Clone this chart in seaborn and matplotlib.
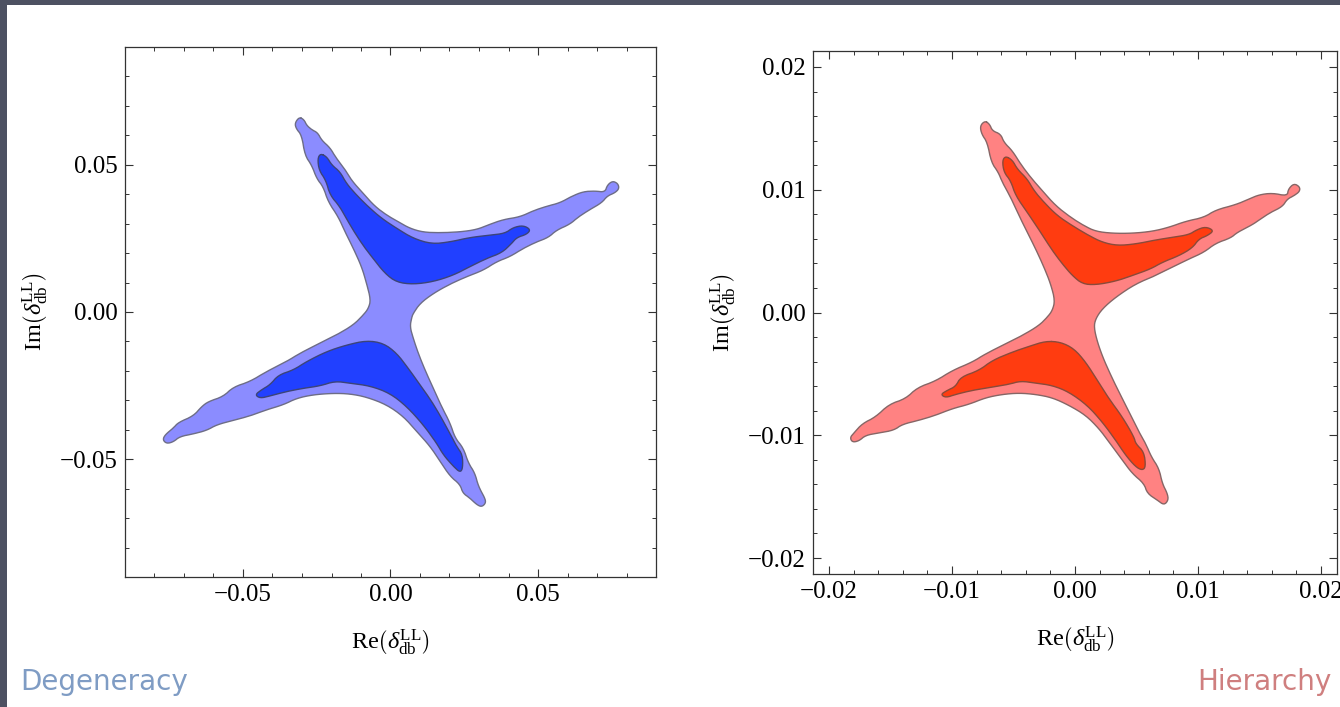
import numpy as np
import pandas as pd
import matplotlib.pyplot as plt
import seaborn as sns
from matplotlib.patches import Rectangle
from matplotlib.ticker import MultipleLocator

deg_outer_re = [-30.9, -29.3, -28.4, -26.7, -24.7, -23.3, -20.5, -18.5, -15.6, -13.2, -9.2, -5.3, -1.3, 2.7, 6.6, 11.1, 16.8, 23.6, 29.2, 33.2, 38.2, 43.9, 48.4, 52.9, 57.5, 61.4, 65.4, 69.3, 72.7, 73.5, 75.3, 77.1, 77.5, 76.1, 73.5, 71.6, 67.6, 63.7, 60.8, 56.3, 53.5, 49.5, 45.0, 40.5, 36.0, 31.5, 25.8, 20.2, 14.5, 10.0, 7.7,
                7.2, 6.6, 7.7, 9.4, 11.7, 14.5, 17.3, 20.2, 21.9, 24.7, 26.4, 28.6, 29.8, 32.0, 32.3, 30.9, 29.2, 26.9, 24.5, 23.6, 20.2, 16.8, 13.4, 8.9, 4.4, -1.3, -8.1, -13.7, -19.4, -26.2, -31.8, -36.3, -42.0, -47.6, -53.3, -58.9, -62.3, -66.8, -71.4, -73.6, -75.9, -77.2, -76.4, -73.6, -71.9, -66.8, -64.0, -61.7, -56.7, -53.3, -47.6, -42.0, -35.2, -30.7, -24.0, -18.3, -12.6, -9.2,
                -7.5, -6.7, -8.1, -9.8, -12.6, -15.4, -17.7, -21.1, -22.8, -25.0, -26.7, -29.0, -30.1, -32.0, -32.4]
deg_outer_im = [66.2, 65.3, 63.4, 61.9, 60.9, 58.3, 55.8, 52.4, 48.7, 44.7, 40.2, 35.9, 32.9, 30.6, 28.4, 27.1, 26.9, 27.2, 28.0, 29.6, 31.4, 32.3, 34.4, 35.9, 37.1, 39.3, 40.9, 41.1, 40.7, 43.1, 44.5, 43.6, 41.9, 40.5, 39.4, 37.1, 34.8, 32.3, 29.8, 27.8, 25.3, 23.8, 21.6, 18.8, 17.1, 14.2, 12.0, 9.5, 6.3, 2.9, -0.5,
                -1.8, -5.0, -8.9, -14.0, -19.7, -25.9, -32.1, -37.7, -42.8, -46.2, -51.3, -54.7, -59.2, -63.2, -64.9, -66.2, -65.4, -63.2, -61.5, -58.6, -55.8, -50.7, -45.6, -40.6, -35.5, -31.5, -28.9, -27.8, -27.6, -28.1, -29.3, -31.5, -33.2, -35.3, -36.8, -38.3, -40.2, -41.4, -42.3, -44.1, -44.7, -43.4, -41.7, -39.4, -37.5, -35.3, -32.1, -30.4, -28.7, -25.5, -23.6, -20.2, -16.8, -14.0, -10.6, -7.8, -4.4, -1.0,
                1.2, 4.1, 9.7, 15.4, 21.6, 27.2, 32.3, 37.4, 42.5, 45.3, 49.8, 53.2, 60.0, 62.3, 64.2]
deg_upper_re = [-23.7, -21.6, -19.9, -17.1, -14.9, -11.5, -7.5, -3.0, 2.1, 7.7, 14.0, 20.2, 26.9, 33.7, 38.8, 41.6, 45.0, 47.5, 46.2, 42.8, 41.1, 37.7, 32.6, 26.9, 21.3, 14.5, 7.7, 2.1, -1.9, -6.4, -9.8, -13.7, -17.1, -20.5, -21.9, -24.2, -24.7]
deg_upper_im = [53.8, 52.7, 49.9, 47.6, 43.6, 39.7, 35.7, 31.8, 28.4, 25.0, 23.1, 23.8, 25.3, 26.1, 26.7, 28.7, 29.4, 28.0, 26.4, 25.3, 23.3, 20.1, 18.2, 15.4, 12.5, 10.3, 9.4, 10.1, 13.1, 18.8, 23.3, 29.5, 35.7, 39.7, 44.7, 48.1, 52.1]
deg_lower_re = [-8.1, -2.4, 2.1, 6.0, 10.0, 14.0, 17.3, 20.7, 22.4, 24.4, 24.5, 23.6, 21.3, 17.9, 15.6, 11.1, 5.5, -0.2, -6.9, -13.7, -18.8, -23.9, -29.5, -35.2, -40.8, -44.2, -45.9, -43.7, -40.8, -38.0, -32.9, -28.4, -21.6, -14.9]
deg_lower_im = [-9.7, -10.6, -14.0, -19.1, -24.7, -30.4, -36.0, -42.3, -45.6, -48.5, -53.0, -54.5, -52.4, -48.5, -44.5, -38.3, -32.1, -27.6, -25.1, -24.2, -23.5, -25.1, -25.9, -27.0, -28.5, -29.3, -28.1, -26.4, -24.7, -21.4, -19.7, -16.8, -13.4, -11.2]

hie_outer_re = [-7.32, -6.94, -6.72, -6.04, -5.77, -5.09, -4.42, -3.60, -2.66, -1.57, -0.35, 0.73, 1.68, 3.04, 4.66, 6.29, 7.64, 9.00, 10.49, 11.44, 13.06, 14.15, 14.96, 16.04, 17.26, 17.34, 17.80, 18.27, 18.27, 17.80, 17.26, 16.86, 15.91, 15.09, 14.42, 13.20, 12.66, 11.44, 10.49, 9.27, 7.91, 6.56, 4.93, 3.31, 2.22,
                1.68, 1.54, 1.82, 2.36, 3.17, 3.85, 4.53, 5.20, 5.75, 6.21, 6.83, 7.10, 7.51, 7.59, 7.24, 6.69, 5.88, 5.61, 4.66, 3.85, 2.76, 1.95, 0.87, -0.49, -1.84, -3.20, -4.55, -5.91, -7.26, -8.62, -9.97, -11.33, -12.68, -14.04, -14.72, -15.93, -17.02, -17.56, -18.10, -18.29, -17.97, -17.29, -16.21, -15.12, -13.77, -12.82, -11.33, -9.97, -8.35, -7.26, -5.64, -4.28, -2.93, -2.25,
                -1.84, -1.63, -1.98, -2.52, -3.20, -3.88, -4.55, -5.23, -5.91, -6.23, -6.80, -7.13, -7.59, -7.72]
hie_outer_im = [15.61, 15.34, 14.80, 14.53, 13.85, 13.17, 12.09, 11.00, 9.92, 8.70, 7.75, 7.07, 6.61, 6.45, 6.45, 6.61, 6.94, 7.43, 7.75, 8.35, 8.78, 9.24, 9.59, 9.73, 9.49, 10.05, 10.51, 10.24, 9.86, 9.51, 9.24, 8.62, 8.16, 7.62, 7.15, 6.53, 6.07, 5.64, 4.91, 4.36, 3.69, 3.01, 2.33, 1.25, 0.30,
                -0.51, -1.19, -2.41, -3.90, -5.66, -7.02, -8.37, -9.73, -10.68, -11.76, -12.71, -13.93, -14.74, -15.28, -15.69, -15.28, -14.74, -13.93, -13.12, -12.03, -10.54, -9.46, -8.37, -7.56, -6.94, -6.67, -6.56, -6.67, -6.94, -7.48, -7.83, -8.37, -8.78, -9.11, -9.59, -9.81, -10.0, -10.46, -10.57, -10.19, -9.81, -9.05, -8.51, -7.48, -7.02, -6.12, -5.58, -4.72, -4.04, -3.36, -2.55, -1.87, -1.06, -0.38,
                0.16, 0.98, 2.33, 3.69, 5.18, 6.53, 7.89, 9.38, 10.60, 11.41, 12.22, 13.85, 14.53, 15.20]
hie_upper_re = [-5.64, -5.09, -4.69, -3.88, -3.33, -2.52, -1.44, -0.22, 1.14, 2.22, 3.44, 4.93, 6.56, 7.91, 9.27, 9.86, 10.62, 11.30, 10.76, 10.08, 9.54, 8.46, 7.10, 6.15, 4.66, 3.31, 1.68, 0.60, -0.22, -1.03, -1.84, -2.79, -3.88, -4.82, -5.23, -5.77, -5.91]
hie_upper_im = [12.74, 12.41, 11.68, 10.87, 9.92, 8.97, 7.89, 7.07, 6.26, 5.72, 5.45, 5.58, 5.91, 6.12, 6.34, 6.72, 6.99, 6.67, 6.26, 5.99, 5.26, 4.63, 4.09, 3.55, 3.01, 2.55, 2.25, 2.33, 3.01, 3.96, 5.04, 6.53, 8.16, 9.51, 10.73, 11.41, 12.36]
hie_lower_re = [-2.38, -1.17, -0.08, 0.87, 1.82, 2.76, 3.85, 4.80, 4.93, 5.61, 5.75, 5.47, 4.93, 4.12, 3.31, 2.22, 1.00, -0.49, -1.84, -3.20, -4.42, -5.37, -6.72, -8.35, -9.70, -10.51, -10.92, -10.38, -9.70, -9.30, -7.80, -6.72, -5.09, -3.74]
hie_lower_im = [-2.33, -2.41, -2.95, -4.04, -5.53, -7.02, -8.51, -10.14, -10.68, -11.36, -12.57, -12.85, -12.57, -11.63, -10.41, -8.92, -7.56, -6.48, -5.94, -5.75, -5.58, -5.85, -6.07, -6.34, -6.67, -6.94, -6.67, -6.34, -6.02, -5.26, -4.72, -3.90, -3.22, -2.76]

deg_ticks = [-0.05, 0.0, 0.05]
deg_labels = ['\u22120.05', '0.00', '0.05']
hie_ticks = [-0.02, -0.01, 0.0, 0.01, 0.02]
hie_labels = ['\u22120.02', '\u22120.01', '0.00', '0.01', '0.02']

sns.set_style('ticks')
plt.rcParams['font.family'] = ['Liberation Serif', 'DejaVu Serif']
plt.rcParams['mathtext.fontset'] = 'custom'
plt.rcParams['mathtext.rm'] = 'Liberation Serif'
plt.rcParams['mathtext.it'] = 'Liberation Serif:italic'
plt.rcParams['mathtext.bf'] = 'Liberation Serif:bold'

W, H = 1340, 707
LABEL = r'$\mathrm{%s}\left(\delta_{\mathrm{db}}^{\mathrm{LL}}\right)$'


def round_corners(v):
    # corner cutting so the outline is drawn round instead of with sharp kinks
    for _ in range(2):
        nxt = np.roll(v, -1)
        v = np.column_stack([0.75 * v + 0.25 * nxt, 0.25 * v + 0.75 * nxt]).ravel()
    return np.r_[v, v[0]]


def contour(ax, re, im, fill, edge):
    df = pd.DataFrame({'re': round_corners(np.array(re)) / 1000,
                       'im': round_corners(np.array(im)) / 1000})
    ax.fill(df['re'], df['im'], color=fill, lw=0)
    sns.lineplot(data=df, x='re', y='im', sort=False, estimator=None, ax=ax,
                 color=edge, lw=1.0, solid_joinstyle='round')
    ax.set_xlabel('')
    ax.set_ylabel('')


def panel(box, lim, ticks, labels, minor):
    left, top, right, bottom = box
    ax = fig.add_axes([left / W, 1 - bottom / H, (right - left) / W, (bottom - top) / H])
    ax.set_facecolor('white')
    ax.set_xlim(-lim, lim)
    ax.set_ylim(-lim, lim)
    ax.set_xticks(ticks)
    ax.set_yticks(ticks)
    ax.set_xticklabels(labels)
    ax.set_yticklabels(labels)
    ax.xaxis.set_minor_locator(MultipleLocator(minor))
    ax.yaxis.set_minor_locator(MultipleLocator(minor))
    ax.tick_params(which='major', direction='in', length=6, width=0.8, top=True, right=True,
                   labelsize=18, color='#333333', labelcolor='black', pad=5)
    ax.tick_params(which='minor', direction='in', length=3, width=0.7, top=True, right=True,
                   color='#333333')
    for s in ax.spines.values():
        s.set_visible(True)
        s.set_linewidth(0.9)
        s.set_color('#333333')
    return ax


fig = plt.figure(figsize=(W / 100, H / 100), dpi=100, facecolor='#4d5162')
fig.add_artist(Rectangle((7 / W, 0), 1, 1 - 5 / H, transform=fig.transFigure,
                         facecolor='white', edgecolor='none', zorder=-5))

ax1 = panel((125, 47, 656, 577), 0.09, deg_ticks, deg_labels, 0.01)
contour(ax1, deg_outer_re, deg_outer_im, '#8b8cff', '#6d6d86')
contour(ax1, deg_upper_re, deg_upper_im, '#2140ff', '#3c4478')
contour(ax1, deg_lower_re, deg_lower_im, '#2140ff', '#3c4478')

ax2 = panel((813, 51, 1337, 574), 0.0213, hie_ticks, hie_labels, 0.002)
contour(ax2, hie_outer_re, hie_outer_im, '#ff8282', '#866666')
contour(ax2, hie_upper_re, hie_upper_im, '#ff3c10', '#8a4a3a')
contour(ax2, hie_lower_re, hie_lower_im, '#ff3c10', '#8a4a3a')

for ax in (ax1, ax2):
    ax.set_xlabel(LABEL % 'Re', fontsize=17.5, labelpad=15, color='black')
    ax.set_ylabel(LABEL % 'Im', fontsize=17.5, labelpad=7, color='black')

fig.text(20 / W, 1 - 682 / H, 'Degeneracy', family='DejaVu Sans', fontsize=20,
         color='#7f9cc4', va='center', ha='left')
fig.text(1332 / W, 1 - 682 / H, 'Hierarchy', family='DejaVu Sans', fontsize=20,
         color='#cf7f7f', va='center', ha='right')

fig.savefig('out.png', dpi=100, facecolor=fig.get_facecolor())
